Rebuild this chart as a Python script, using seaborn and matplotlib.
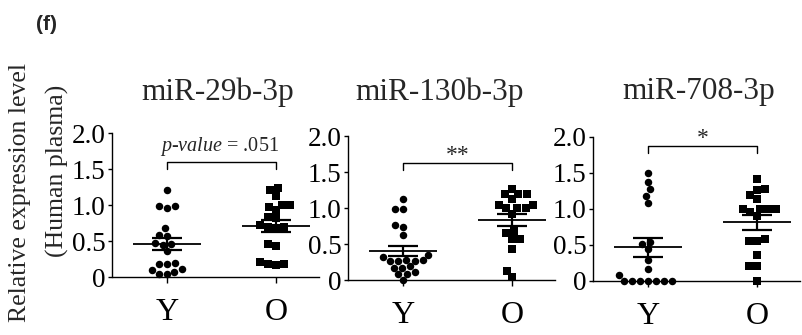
import numpy as np
import pandas as pd
import seaborn as sns
import matplotlib
matplotlib.use("Agg")
import matplotlib.pyplot as plt

# ---------------- data ----------------
titles = ["miR-29b-3p", "miR-130b-3p", "miR-708-3p"]
groups = ["Y", "O"]
y_ticks = [0, 0.5, 1.0, 1.5, 2.0]
y_tick_labels = ["0", "0.5", "1.0", "1.5", "2.0"]

mir29_Y = [1.21, 0.99, 0.96, 0.99, 0.68, 0.59, 0.58, 0.47, 0.45, 0.46, 0.36,
           0.20, 0.18, 0.19, 0.10, 0.08, 0.12, 0.04, 0.05]
mir29_O = [1.24, 1.21, 1.13, 1.00, 1.00, 0.98, 0.93, 0.84, 0.82, 0.72, 0.70,
           0.68, 0.70, 0.46, 0.43, 0.19, 0.17, 0.18, 0.21]
mir130_Y = [1.12, 0.99, 0.99, 0.76, 0.74, 0.62, 0.35, 0.32, 0.27, 0.28, 0.28,
            0.27, 0.26, 0.17, 0.17, 0.19, 0.08, 0.09, 0.11, 0.00]
mir130_O = [1.26, 1.19, 1.19, 1.19, 1.125, 1.04, 1.00, 1.00, 1.00, 1.04, 0.92,
            0.68, 0.65, 0.57, 0.57, 0.43, 0.13, 0.04]
mir708_Y = [1.50, 1.375, 1.27, 1.18, 1.08, 0.545, 0.51, 0.44, 0.29, 0.16, 0.08,
            0.0, 0.0, 0.0, 0.0, 0.0, 0.0, 0.0]
mir708_O = [1.42, 1.27, 1.26, 1.19, 1.13, 1.00, 1.00, 1.00, 1.00, 0.96, 0.90,
            0.56, 0.56, 0.58, 0.36, 0.21, 0.21, 0.0]

significance = ["$\\it{p}$-$\\it{value}$ = .051", "**", "*"]
bracket_y = [1.60, 1.62, 1.875]
bracket_leg = [0.10, 0.09, 0.095]

series = [(mir29_Y, mir29_O), (mir130_Y, mir130_O), (mir708_Y, mir708_O)]

# ---------------- style ----------------
sns.set_theme(style="ticks")
plt.rcParams["font.family"] = ["Liberation Serif", "DejaVu Serif"]
plt.rcParams["mathtext.fontset"] = "custom"
plt.rcParams["mathtext.it"] = "Liberation Serif:italic"
plt.rcParams["mathtext.rm"] = "Liberation Serif"

W, H = 803, 335
fig = plt.figure(figsize=(W / 100, H / 100), dpi=100)

# axes pixel boxes: left, bottom(y of zero), top(y of 2.0)
boxes = [(112.5, 277.3, 133.3), (348.5, 280.0, 136.0), (593.5, 281.0, 136.7)]
ax_w = 207
title_x = [0.51, 0.44, 0.51]
title_pad = [24, 26, 27]

for i, ((yv, ov), (l, b, t)) in enumerate(zip(series, boxes)):
    ax = fig.add_axes([l / W, 1 - b / H, ax_w / W, (b - t) / H])
    df = pd.DataFrame({
        "group": ["Y"] * len(yv) + ["O"] * len(ov),
        "value": list(yv) + list(ov),
    })
    sns.swarmplot(data=df[df.group == "Y"], x="group", y="value", order=groups,
                  marker="o", color="black", size=5.4, ax=ax, clip_on=False,
                  linewidth=0)
    sns.swarmplot(data=df[df.group == "O"], x="group", y="value", order=groups,
                  marker="s", color="black", size=5.6, ax=ax, clip_on=False,
                  linewidth=0)
    stats = df.groupby("group")["value"].agg(["mean", "sem"])
    for xi, g in enumerate(groups):
        m, s = stats.loc[g, "mean"], stats.loc[g, "sem"]
        ax.hlines(m, xi - 0.31, xi + 0.31, color="black", lw=1.3, zorder=5)
        ax.vlines(xi, m - s, m + s, color="black", lw=1.6, zorder=5)
        ax.hlines([m - s, m + s], xi - 0.14, xi + 0.14, color="black", lw=1.6,
                  zorder=5)
    # significance bracket
    by, lg = bracket_y[i], bracket_leg[i]
    ax.plot([0, 0, 1, 1], [by - lg, by, by, by - lg], color="black", lw=1.0,
            clip_on=False)
    if i == 0:
        ax.text(0.48, by + 0.06, significance[i], ha="center", va="bottom",
                fontsize=14.5)
    else:
        ax.text(0.5, by - 0.04, significance[i], ha="center", va="bottom",
                fontsize=17)

    ax.set_xlim(-0.5, 1.4)
    ax.set_ylim(0, 2.0)
    ax.set_yticks(y_ticks)
    ax.set_yticklabels(y_tick_labels)
    ax.set_xlabel("")
    ax.set_ylabel("")
    sns.despine(ax=ax)
    for sp in ["left", "bottom"]:
        ax.spines[sp].set_linewidth(1.0)
        ax.spines[sp].set_color("black")
    ax.tick_params(axis="y", length=3, width=1, pad=2, labelsize=19.5,
                   colors="black")
    ax.tick_params(axis="x", length=4, width=1, pad=11, labelsize=23,
                   colors="black")
    ax.set_title(titles[i], fontsize=22.5, x=title_x[i], pad=title_pad[i])

fig.text(20 / W, 1 - 193 / H, "Relative expression level", rotation=90,
         ha="center", va="center", fontsize=18.5)
fig.text(57 / W, 1 - 171 / H, "(Human plasma)", rotation=90,
         ha="center", va="center", fontsize=18.5)
fig.text(47 / W, 1 - 25 / H, "(f)", ha="center", va="center", fontsize=15,
         fontweight="bold", family=["Liberation Sans", "DejaVu Sans"])

fig.savefig("out.png", dpi=100)
